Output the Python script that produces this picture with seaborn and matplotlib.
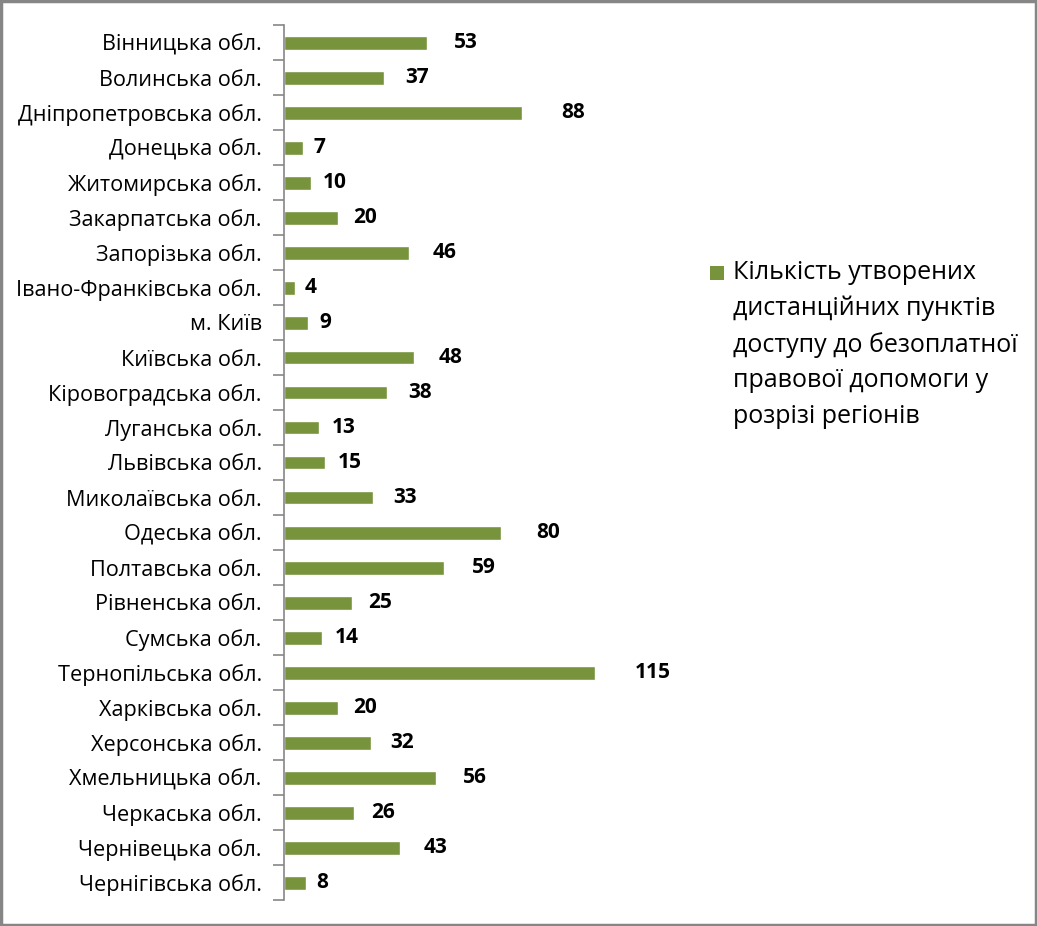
import matplotlib
matplotlib.use("Agg")
import matplotlib.pyplot as plt
import seaborn as sns
import pandas as pd
import numpy as np
from matplotlib.patches import Rectangle

regions = ["Вінницька обл.", "Волинська обл.", "Дніпропетровська обл.", "Донецька обл.",
           "Житомирська обл.", "Закарпатська обл.", "Запорізька обл.", "Івано-Франківська обл.",
           "м. Київ", "Київська обл.", "Кіровоградська обл.", "Луганська обл.",
           "Львівська обл.", "Миколаївська обл.", "Одеська обл.", "Полтавська обл.",
           "Рівненська обл.", "Сумська обл.", "Тернопільська обл.", "Харківська обл.",
           "Херсонська обл.", "Хмельницька обл.", "Черкаська обл.", "Чернівецька обл.",
           "Чернігівська обл."]
values = [53, 37, 88, 7, 10, 20, 46, 4, 9, 48, 38, 13, 15, 33, 80, 59, 25, 14, 115, 20, 32, 56, 26, 43, 8]
series_name = "Кількість утворених\nдистанційних пунктів\nдоступу до безоплатної\nправової допомоги у\nрозрізі регіонів"

sns.set_theme(style="white")
plt.rcParams['font.family'] = ['Open Sans', 'DejaVu Sans']

df = pd.DataFrame({"region": regions, "value": values})
GREEN = "#77933C"

fig = plt.figure(figsize=(10.37, 9.26), dpi=100)
ax = fig.add_axes([284/1037, 1 - 900/926, (690 - 284)/1037, (900 - 25)/926])
sns.barplot(data=df, y="region", x="value", color=GREEN, saturation=1, width=0.4, ax=ax, orient="h")

ax.set_xlim(0, 150)
ax.set_ylim(len(regions) - 0.5, -0.5)
ax.set_xlabel("")
ax.set_ylabel("")
ax.set_xticks([])
for s in ["top", "right", "bottom"]:
    ax.spines[s].set_visible(False)
ax.spines["left"].set_color("#868686")
ax.spines["left"].set_linewidth(1.2)
ax.tick_params(axis="y", which="major", length=0, pad=16, labelsize=15.6, labelcolor="black")
ax.set_yticks(np.arange(-0.5, len(regions), 1), minor=True)
ax.tick_params(axis="y", which="minor", length=8, width=1.2, color="#868686", left=True)

for i, v in enumerate(values):
    ax.annotate(str(v), xy=(v, i), xytext=(8 + min(v, 90) * 0.35, 0), textcoords="offset pixels",
                ha="left", va="center", fontsize=15, fontweight="bold", color="black")

# legend
fig.patches.append(Rectangle((710/1037, 1 - 280/926), 14/1037, 14/926, transform=fig.transFigure,
                             facecolor=GREEN, edgecolor="none"))
fig.text(733/1037, 1 - 260/926, series_name, ha="left", va="top", fontsize=18,
         linespacing=1.55, color="black")

# outer border
fig.patches.append(Rectangle((0.001, 0.001), 0.998, 0.998, transform=fig.transFigure,
                             facecolor="none", edgecolor="#868686", linewidth=2.5))

fig.savefig("out.png", dpi=100)
